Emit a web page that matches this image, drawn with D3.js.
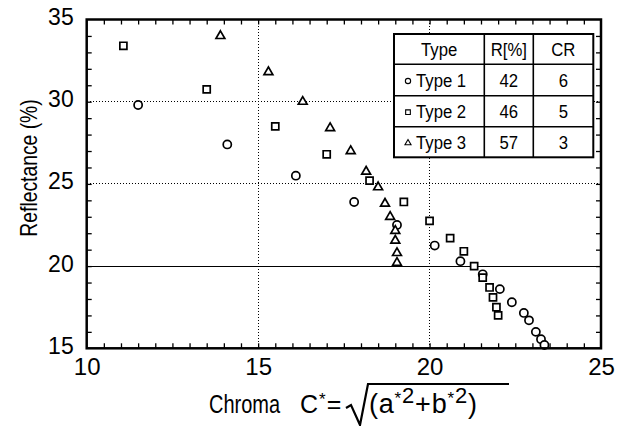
<!DOCTYPE html>
<head>
    <meta charset="utf-8">
    <title>Reflectance vs Chroma</title>
    <script src="https://d3js.org/d3.v7.min.js"></script>
    <style>
    body { margin: 0; background: #fff; }
    text { font-family: "Liberation Sans", Arial, Helvetica, sans-serif; fill: #000; }
    </style>
</head>
<body>
    <script>
    // values
    var type1C = [11.5, 14.1, 16.1, 17.8, 19.05, 20.15, 20.9, 21.55, 22.05, 22.4, 22.75, 22.9, 23.1, 23.25, 23.35],
        type1R = [29.8, 27.4, 25.5, 23.9, 22.5, 21.25, 20.3, 19.5, 18.6, 17.8, 17.15, 16.7, 16.0, 15.55, 15.2];
    var type2C = [11.07, 13.5, 15.5, 17.0, 18.25, 19.25, 20.0, 20.6, 21.0, 21.3, 21.55, 21.75, 21.85, 21.95, 22.0],
        type2R = [33.4, 30.75, 28.5, 26.8, 25.2, 23.9, 22.75, 21.7, 20.9, 20.0, 19.3, 18.7, 18.1, 17.5, 17.0];
    var type3C = [13.9, 15.3, 16.3, 17.1, 17.7, 18.15, 18.5, 18.7, 18.85, 19.0, 19.0, 19.05, 19.05],
        type3R = [34.0, 31.8, 30.0, 28.4, 27.0, 25.75, 24.8, 23.8, 23.0, 22.15, 21.55, 20.8, 20.2];

    var xTicks = [10, 15, 20, 25],
        yTicks = [15, 20, 25, 30, 35];

    var tableHead = ["Type", "R[%]", "CR"],
        tableTypes = ["Type 1", "Type 2", "Type 3"],
        tableR = [42, 46, 57],
        tableCR = [6, 5, 3];

    var W = 622, H = 426,
        margin = {top: 19.5, right: 21, bottom: 77.7, left: 86.7},
        width = W - margin.left - margin.right,
        height = H - margin.top - margin.bottom;

    var svg = d3.select("body").append("svg")
        .attr("width", W)
        .attr("height", H);

    var g = svg.append("g")
        .attr("transform", "translate(" + margin.left + "," + margin.top + ")");

    var x = d3.scaleLinear().domain([10, 25]).range([0, width]),
        y = d3.scaleLinear().domain([15, 35]).range([height, 0]);

    // grid
    g.selectAll(".vgrid")
        .data([15, 20])
        .enter().append("line")
        .attr("x1", x).attr("x2", x)
        .attr("y1", 0).attr("y2", height)
        .attr("stroke", "#000").attr("stroke-width", 1)
        .attr("shape-rendering", "crispEdges")
        .attr("stroke-dasharray", "1.5,1.5");

    g.selectAll(".hgrid")
        .data([20, 25, 30])
        .enter().append("line")
        .attr("x1", 0).attr("x2", width)
        .attr("y1", y).attr("y2", y)
        .attr("stroke", "#000").attr("stroke-width", 1)
        .attr("shape-rendering", "crispEdges")
        .attr("stroke-dasharray", function(d) { return d == 20 ? null : "1.5,1.5"; });

    // points
    var series = [
        {c: type1C, r: type1R, sym: d3.symbolCircle, size: 52},
        {c: type2C, r: type2R, sym: d3.symbolSquare, size: 50},
        {c: type3C, r: type3R, sym: d3.symbolTriangle, size: 34}
    ];

    series.forEach(function(s) {
        g.append("g").selectAll("path")
            .data(s.c)
            .enter().append("path")
            .attr("transform", function(d, i) {
                return "translate(" + x(d) + "," + y(s.r[i]) + ")";
            })
            .attr("d", d3.symbol().type(s.sym).size(s.size))
            .attr("fill", "#fff")
            .attr("stroke", "#000")
            .attr("stroke-width", 1.7);
    });

    // inward ticks on all four sides
    function minor(axis, vals) {
        var a = g.append("g").call(axis.tickValues(vals).tickSize(-5).tickFormat(""));
        a.select(".domain").remove();
        a.selectAll("line").attr("stroke-width", 1.3);
        return a;
    }
    minor(d3.axisBottom(x), d3.range(10.5, 25, 0.5)).attr("transform", "translate(0," + height + ")");
    minor(d3.axisTop(x), d3.range(10.5, 25, 0.5));
    minor(d3.axisLeft(y), d3.range(16, 35, 1));
    minor(d3.axisRight(y), d3.range(16, 35, 1)).attr("transform", "translate(" + width + ",0)");

    // legend table
    var tx = [394 - margin.left, 484.3 - margin.left, 533.3 - margin.left, 593.3 - margin.left],
        ty = [34 - margin.top, 64.3 - margin.top, 95.7 - margin.top, 126.7 - margin.top, 157.3 - margin.top];

    var tab = g.append("g");
    tab.append("rect")
        .attr("x", tx[0]).attr("y", ty[0])
        .attr("width", tx[3] - tx[0]).attr("height", ty[4] - ty[0])
        .attr("fill", "#fff").attr("stroke", "#000").attr("stroke-width", 2);
    [1, 2, 3].forEach(function(i) {
        tab.append("line")
            .attr("x1", tx[0]).attr("x2", tx[3]).attr("y1", ty[i]).attr("y2", ty[i])
            .attr("stroke", "#000").attr("stroke-width", 1.6);
    });
    [1, 2].forEach(function(i) {
        tab.append("line")
            .attr("x1", tx[i]).attr("x2", tx[i]).attr("y1", ty[0]).attr("y2", ty[4])
            .attr("stroke", "#000").attr("stroke-width", 1.6);
    });

    function cellText(txt, cx, cy) {
        tab.append("text")
            .attr("transform", "translate(" + cx + "," + (cy + 7) + ") scale(0.88,1)")
            .attr("text-anchor", "middle")
            .attr("font-size", 19)
            .text(txt);
    }
    tableHead.forEach(function(t, j) {
        cellText(t, (tx[j] + tx[j + 1]) / 2, (ty[0] + ty[1]) / 2);
    });
    tableTypes.forEach(function(t, i) {
        var cy = (ty[i + 1] + ty[i + 2]) / 2;
        tab.append("path")
            .attr("transform", "translate(" + (tx[0] + 14) + "," + (cy + 1) + ")")
            .attr("d", d3.symbol().type(series[i].sym).size(i == 2 ? 16 : 22))
            .attr("fill", "#fff").attr("stroke", "#000").attr("stroke-width", 1.1);
        tab.append("text")
            .attr("transform", "translate(" + (tx[0] + 22) + "," + (cy + 7) + ") scale(0.88,1)")
            .attr("font-size", 19)
            .text(t);
        cellText(tableR[i], (tx[1] + tx[2]) / 2, cy);
        cellText(tableCR[i], (tx[2] + tx[3]) / 2, cy);
    });

    // frame
    g.append("rect")
        .attr("width", width).attr("height", height)
        .attr("fill", "none").attr("stroke", "#000").attr("stroke-width", 2.5);

    // tick labels
    var xa = g.append("g")
        .attr("transform", "translate(0," + height + ")")
        .call(d3.axisBottom(x).tickValues(xTicks).tickSize(0).tickPadding(10));
    xa.select(".domain").remove();
    xa.selectAll("text").attr("font-size", 24).attr("font-family", null);

    var ya = g.append("g")
        .call(d3.axisLeft(y).tickValues(yTicks).tickSize(0).tickPadding(13));
    ya.select(".domain").remove();
    ya.selectAll("text").attr("font-size", 23).attr("dy", "0.22em").attr("font-family", null);

    // axis titles
    svg.append("text")
        .attr("transform", "translate(37,168) rotate(-90) scale(0.84,1)")
        .attr("text-anchor", "middle")
        .attr("font-size", 23)
        .text("Reflectance (%)");

    var xt = svg.append("g").attr("transform", "translate(0,413)");
    xt.append("text")
        .attr("transform", "translate(209,0) scale(0.8,1)")
        .attr("font-size", 25)
        .text("Chroma");
    var f1 = xt.append("text")
        .attr("transform", "translate(300,0)")
        .attr("font-size", 25)
        .attr("letter-spacing", 1);
    f1.append("tspan").text("C");
    f1.append("tspan").attr("font-size", 17).attr("dy", -8).text("*");
    f1.append("tspan").attr("dy", 8).text("=");

    xt.append("path")
        .attr("d", "M346,-5 L351,-8 L360,12 L368,-29 L509,-29")
        .attr("fill", "none").attr("stroke", "#000")
        .attr("stroke-width", 2.2).attr("stroke-linejoin", "miter");

    var f2 = xt.append("text")
        .attr("transform", "translate(369,0)")
        .attr("font-size", 27)
        .attr("letter-spacing", 0.8);
    f2.append("tspan").text("(a");
    f2.append("tspan").attr("font-size", 17).attr("dy", -9).text("*");
    f2.append("tspan").attr("font-size", 22).attr("dy", -1).text("2");
    f2.append("tspan").attr("dy", 10).text("+b");
    f2.append("tspan").attr("font-size", 17).attr("dy", -9).text("*");
    f2.append("tspan").attr("font-size", 22).attr("dy", -1).text("2");
    f2.append("tspan").attr("dy", 10).text(")");
    </script>
</body>
